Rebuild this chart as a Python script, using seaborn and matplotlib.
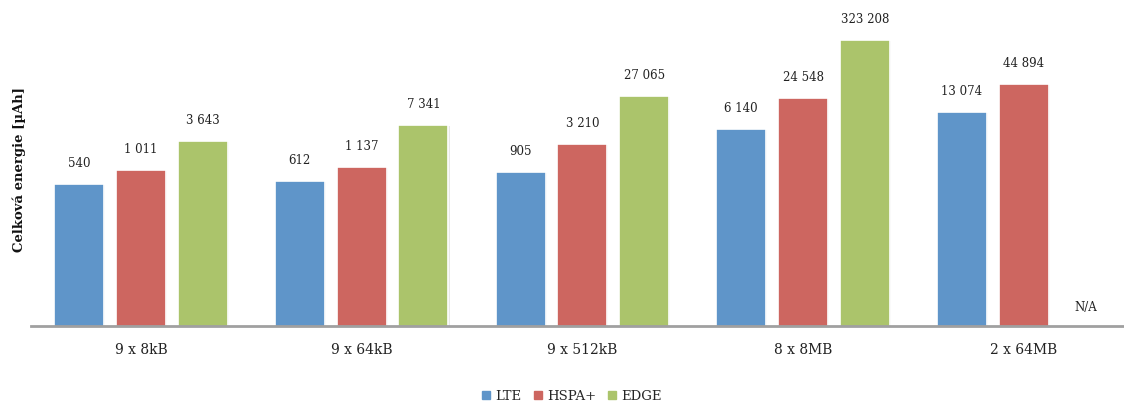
import numpy as np
import pandas as pd
import matplotlib
matplotlib.use("Agg")
import matplotlib.pyplot as plt
import matplotlib.patheffects as pe
import seaborn as sns

categories = ["9 x 8kB", "9 x 64kB", "9 x 512kB", "8 x 8MB", "2 x 64MB"]
series = ["LTE", "HSPA+", "EDGE"]
lte = [540, 612, 905, 6140, 13074]
hspa = [1011, 1137, 3210, 24548, 44894]
edge = [3643, 7341, 27065, 323208, np.nan]
colors = ["#5F95C9", "#CD6660", "#ABC46B"]

rows = []
for name, vals in zip(series, [lte, hspa, edge]):
    for c, v in zip(categories, vals):
        if not np.isnan(v):
            rows.append({"cat": c, "tech": name, "val": v})
df = pd.DataFrame(rows)

sns.set_theme(style="white")
plt.rcParams["font.family"] = ["DejaVu Serif"]

fig = plt.figure(figsize=(11.24, 4.03), dpi=100)
ax = fig.add_axes([30.6/1124, 1-326/403, 1103.5/1124, 312/403])

sns.barplot(data=df, x="cat", y="val", hue="tech", order=categories,
            hue_order=series, palette=colors, saturation=1, width=0.84, gap=0.19,
            edgecolor="white", linewidth=1.2, ax=ax, legend=True)
ax.set_yscale("log")
ax.set_ylim(1, 1e6)
ax.set_xlim(-0.5, len(categories) - 0.5)

shadow = [pe.SimplePatchShadow(offset=(0.8, -0.8), shadow_rgbFace="#d0d0d0", alpha=0.5),
          pe.Normal()]
for p in ax.patches:
    p.set_path_effects(shadow)

def fmt(v):
    return f"{int(round(v)):,}".replace(",", " ")

for cont in ax.containers:
    for bar in cont:
        if bar is None:
            continue
        h = bar.get_height()
        if not np.isfinite(h):
            continue
        ax.annotate(fmt(h), (bar.get_x() + bar.get_width() / 2, h),
                    xytext=(0, 10), textcoords="offset points",
                    ha="center", va="bottom", fontsize=8.5, color="#222222")

# N/A for missing EDGE value
ax.text(len(categories) - 1 + 0.28, 2.3, "N/A", ha="center", va="center",
        fontsize=8.5, color="#222222")

for s in ["top", "right", "left"]:
    ax.spines[s].set_visible(False)
ax.spines["bottom"].set_color("#A0A0A0")
ax.spines["bottom"].set_linewidth(2)
ax.set_yticks([])
ax.yaxis.set_minor_locator(matplotlib.ticker.NullLocator())
ax.tick_params(axis="x", length=0, labelsize=10, pad=12, colors="#222222")
ax.set_xlabel("")
ax.set_ylabel("Celková energie [µAh]", fontsize=9.5, fontweight="bold",
              color="#111111", labelpad=3)

leg = ax.get_legend()
if leg is not None:
    leg.remove()
handles = [matplotlib.patches.Patch(color=c) for c in colors]
fig.legend(handles, series, loc="center", bbox_to_anchor=(572/1124, 1-396/403),
           ncol=3, frameon=False, fontsize=9.5, handlelength=0.6, handleheight=0.6,
           handletextpad=0.4, columnspacing=0.9)

fig.savefig("out.png", dpi=100)
